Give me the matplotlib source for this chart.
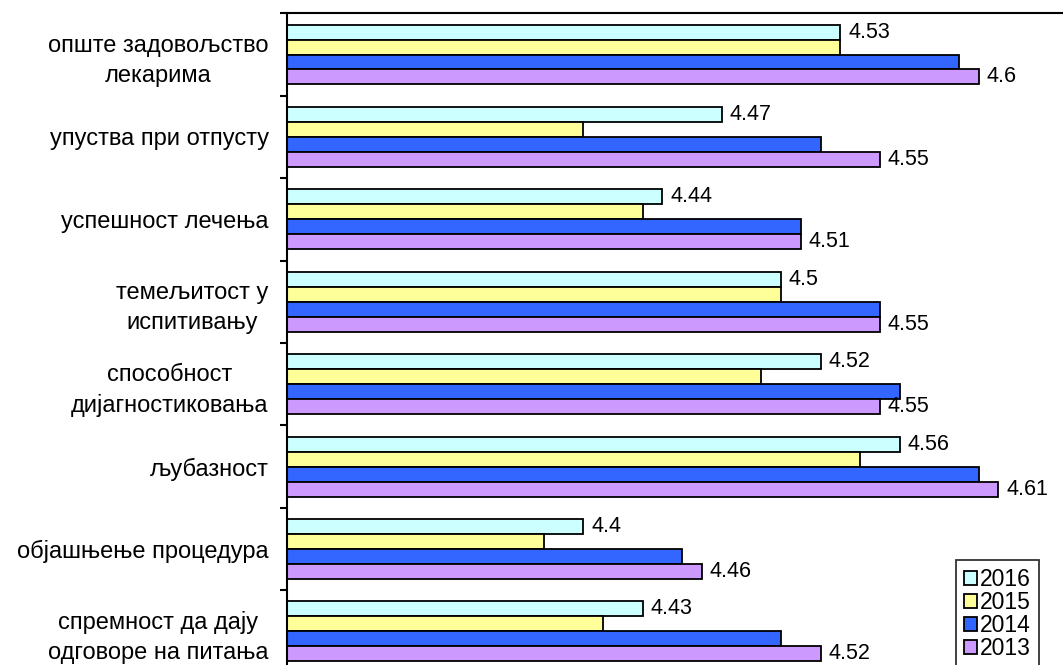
import numpy as np
import matplotlib
matplotlib.use("Agg")
import matplotlib.pyplot as plt
from matplotlib.ticker import FixedLocator, NullFormatter

plt.rcParams['font.family'] = ['Liberation Sans', 'DejaVu Sans']

categories = ['опште задовољство\nлекарима',
              'упуства при отпусту',
              'успешност лечења',
              'темељитост у\nиспитивању',
              'способност\nдијагностиковања',
              'љубазност',
              'објашњење процедура',
              'спремност да дају\nодговоре на питања']
years = ['2016', '2015', '2014', '2013']
v2016 = [4.53, 4.47, 4.44, 4.50, 4.52, 4.56, 4.40, 4.43]
v2015 = [4.53, 4.40, 4.43, 4.50, 4.49, 4.54, 4.38, 4.41]
v2014 = [4.59, 4.52, 4.51, 4.55, 4.56, 4.60, 4.45, 4.50]
v2013 = [4.60, 4.55, 4.51, 4.55, 4.55, 4.61, 4.46, 4.52]
series = [v2016, v2015, v2014, v2013]
colors = ['#CCFFFF', '#FFFF99', '#3366FF', '#CC99FF']
labelled = [True, False, False, True]

xmin, xmax = 4.25, 4.65

fig = plt.figure(figsize=(10.63, 6.65), dpi=100)
ax = fig.add_axes([0.2697, -0.0113, 0.744, 0.9913])

h = 0.182
centers = np.arange(len(categories)) + 0.5
for j, (vals, col) in enumerate(zip(series, colors)):
    y = centers + (j - 1.5) * h
    w = np.array(vals) - xmin
    ax.barh(y, w, left=xmin, height=h, color=col, edgecolor='black',
            linewidth=1.3, label=years[j])
    if labelled[j]:
        for yy, v in zip(y, vals):
            ax.text(v + 0.004, yy, f'{v:g}', va='center', ha='left',
                    fontsize=15.5)

ax.set_xlim(xmin, xmax)
ax.set_ylim(len(categories), 0)
ax.set_xticks([])
ax.yaxis.set_major_locator(FixedLocator(np.arange(len(categories) + 1)))
ax.yaxis.set_major_formatter(NullFormatter())
ax.yaxis.set_minor_locator(FixedLocator(centers))
ax.set_yticklabels(categories, minor=True, fontsize=17)
for lbl in ax.get_yticklabels(minor=True):
    lbl.set_multialignment('center')
    lbl.set_linespacing(1.45)
ax.tick_params(axis='y', which='minor', length=0, pad=13)
ax.tick_params(axis='y', which='major', length=5, width=1.5, direction='out')
for s in ax.spines.values():
    s.set_linewidth(1.5)

leg = fig.legend(loc='upper left', bbox_to_anchor=(956 / 1063, 1 - 560 / 665),
                 frameon=True, fancybox=False, edgecolor='black',
                 fontsize=16.5, handlelength=0.55, handleheight=0.55,
                 handletextpad=0.15, labelspacing=0.0, borderpad=0.35,
                 borderaxespad=0)
leg.get_frame().set_linewidth(1.3)

fig.savefig('out.png', dpi=100)
